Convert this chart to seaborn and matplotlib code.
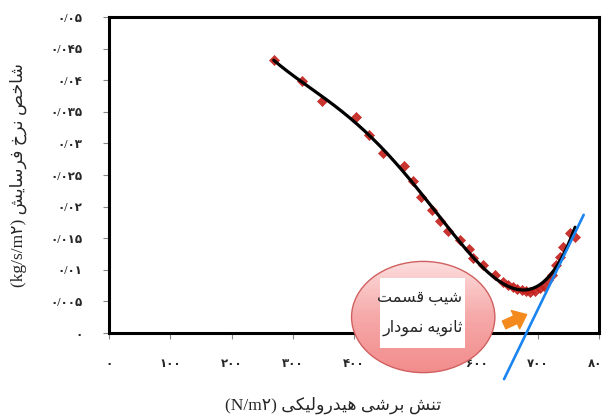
import numpy as np
import matplotlib
matplotlib.use('Agg')
import matplotlib.pyplot as plt
import seaborn as sns
from matplotlib.patches import Ellipse, Rectangle

# measured points (hydraulic shear stress vs erosion rate index)
shear = [269, 315, 348, 403, 424, 448, 482, 496, 509, 527, 541, 553, 573, 588,
         594, 611, 630, 643, 652, 660, 666, 674, 681, 687, 695, 704, 710, 717,
         723, 730, 736, 741, 753, 761]
erosion = [0.0432, 0.0399, 0.0367, 0.0342, 0.0313, 0.0285, 0.0264, 0.0240,
           0.0215, 0.0194, 0.0177, 0.0161, 0.0147, 0.0133, 0.0119, 0.0108,
           0.0092, 0.0081, 0.0076, 0.0073, 0.0070, 0.0068, 0.0066, 0.0065,
           0.0066, 0.0071, 0.0074, 0.0084, 0.0092, 0.0108, 0.0120, 0.0136,
           0.0158, 0.0152]

# slope line of the secondary part (two end points)
slope_x = [645, 775]
slope_y = [-0.0073, 0.0187]

x_ticks = [0, 100, 200, 300, 400, 500, 600, 700, 800]
x_tick_labels = ['۰', '۱۰۰', '۲۰۰', '۳۰۰', '۴۰۰', '۵۰۰', '۶۰۰', '۷۰۰', '۸۰۰']
y_ticks = [0, 0.005, 0.01, 0.015, 0.02, 0.025, 0.03, 0.035, 0.04, 0.045, 0.05]
y_tick_labels = ['۰', '۰/۰۰۵', '۰/۰۱', '۰/۰۱۵', '۰/۰۲', '۰/۰۲۵', '۰/۰۳',
                 '۰/۰۳۵', '۰/۰۴', '۰/۰۴۵', '۰/۰۵']

x_title = 'تنش برشی هیدرولیکی'
y_title = 'شاخص نرخ فرسایش'
note_1 = 'شیب قسمت'
note_2 = 'ثانویه نمودار'

# --- tiny persian shaper: matplotlib has no bidi / joining support ---
FORMS = {
    'ا': ('\uFE8D', '\uFE8E', None, None),
    'ب': ('\uFE8F', '\uFE90', '\uFE91', '\uFE92'),
    'ت': ('\uFE95', '\uFE96', '\uFE97', '\uFE98'),
    'ث': ('\uFE99', '\uFE9A', '\uFE9B', '\uFE9C'),
    'خ': ('\uFEA5', '\uFEA6', '\uFEA7', '\uFEA8'),
    'د': ('\uFEA9', '\uFEAA', None, None),
    'ر': ('\uFEAD', '\uFEAE', None, None),
    'س': ('\uFEB1', '\uFEB2', '\uFEB3', '\uFEB4'),
    'ش': ('\uFEB5', '\uFEB6', '\uFEB7', '\uFEB8'),
    'ص': ('\uFEB9', '\uFEBA', '\uFEBB', '\uFEBC'),
    'ف': ('\uFED1', '\uFED2', '\uFED3', '\uFED4'),
    'ق': ('\uFED5', '\uFED6', '\uFED7', '\uFED8'),
    'ل': ('\uFEDD', '\uFEDE', '\uFEDF', '\uFEE0'),
    'م': ('\uFEE1', '\uFEE2', '\uFEE3', '\uFEE4'),
    'ن': ('\uFEE5', '\uFEE6', '\uFEE7', '\uFEE8'),
    'ه': ('\uFEE9', '\uFEEA', '\uFEEB', '\uFEEC'),
    'و': ('\uFEED', '\uFEEE', None, None),
    'ی': ('\uFBFC', '\uFBFD', '\uFBFE', '\uFBFF'),
    'ک': ('\uFB8E', '\uFB8F', '\uFB90', '\uFB91'),
}
RIGHT_ONLY = set('ادذرزژو')


def fa(s):
    out = []
    for i, c in enumerate(s):
        if c not in FORMS:
            out.append(c)
            continue
        prev = s[i - 1] if i > 0 else None
        nxt = s[i + 1] if i + 1 < len(s) else None
        jp = prev in FORMS and prev not in RIGHT_ONLY
        jn = c not in RIGHT_ONLY and nxt in FORMS
        iso, fin, ini, med = FORMS[c]
        if jp and jn:
            out.append(med)
        elif jp:
            out.append(fin)
        elif jn:
            out.append(ini)
        else:
            out.append(iso)
    return ''.join(out)[::-1]


sns.set_theme(style='white')
plt.rcParams['font.family'] = ['Liberation Serif', 'DejaVu Sans']

fig = plt.figure(figsize=(6.04, 4.16), dpi=100)
ax = fig.add_axes([0.1805, 0.1995, 0.8112, 0.7595])

# trend line (polynomial like the spreadsheet trendline)
xs = np.array(shear, dtype=float)
coef = np.polyfit(xs / 100, erosion, 5)
xfit = np.linspace(min(shear), max(shear), 200)
yfit = np.polyval(coef, xfit / 100)

sns.scatterplot(x=shear, y=erosion, marker='D', s=26, color='#c4201c',
                edgecolor='#c4201c', linewidth=0.5, alpha=0.9, ax=ax, zorder=3)
sns.lineplot(x=xfit, y=yfit, color='black', lw=2.3, ax=ax, zorder=4)

ax.set_xlim(0, 800)
ax.set_ylim(0, 0.05)
ax.set_xticks(x_ticks)
ax.set_xticklabels(x_tick_labels, fontweight='bold', fontsize=8.5)
ax.set_yticks(y_ticks)
ax.set_yticklabels(y_tick_labels, fontweight='bold', fontsize=8.5)
ax.tick_params(axis='x', length=4, width=0.8, color='#888888', pad=14, direction='out', bottom=True)
ax.tick_params(axis='y', length=4, width=0.8, color='#888888', pad=15, direction='out', left=True)

for sp in ax.spines.values():
    sp.set_color('black')
    sp.set_linewidth(2.2)

ax.set_xlabel('(N/m۲) ' + fa(x_title), fontsize=12.5)
ax.xaxis.set_label_coords(0.457, -0.2)
ax.set_ylabel('(kg/s/m۲) ' + fa(y_title), fontsize=12.5)
ax.yaxis.set_label_coords(-0.168, 0.5)

# blue slope line
ax.plot(slope_x, slope_y, color='#1a84f0', lw=1.9, clip_on=False, zorder=6)

# orange arrow
ax.annotate('', xy=(686, 0.0031), xytext=(641, 0.0011),
            arrowprops=dict(arrowstyle='simple,head_length=0.55,head_width=0.9,tail_width=0.38',
                            color='#f48a1e', mutation_scale=16),
            annotation_clip=False, zorder=7)

# pink bubble, vertical gradient made of thin strips clipped to the ellipse
ecx, ecy, ew, eh = 513, 0.00253, 234, 0.0176
ell = Ellipse((ecx, ecy), ew, eh, facecolor='none',
              edgecolor='#d06060', lw=1.0, clip_on=False, zorder=8.5)
ax.add_patch(ell)
pink = matplotlib.colors.LinearSegmentedColormap.from_list('pk', ['#fcdcdc', '#f6a8a8', '#f28c8c'])
n_strips = 60
y_top = ecy + eh / 2
dy = eh / n_strips
for k in range(n_strips):
    strip = Rectangle((ecx - ew / 2, y_top - (k + 1) * dy), ew, dy * 1.05,
                      facecolor=pink(k / (n_strips - 1)), edgecolor='none', zorder=8)
    ax.add_patch(strip)
    strip.set_clip_box(None)
    strip.set_clip_path(ell)

ax.add_patch(Rectangle((442, -0.0024), 139, 0.0111, facecolor='white',
                       edgecolor='none', clip_on=False, zorder=9))
ax.text(576, 0.0056, fa(note_1), ha='right', va='center', fontsize=11.5, zorder=10)
ax.text(578, 0.0008, fa(note_2), ha='right', va='center', fontsize=11.5, zorder=10)

fig.savefig('out.png', dpi=100)
